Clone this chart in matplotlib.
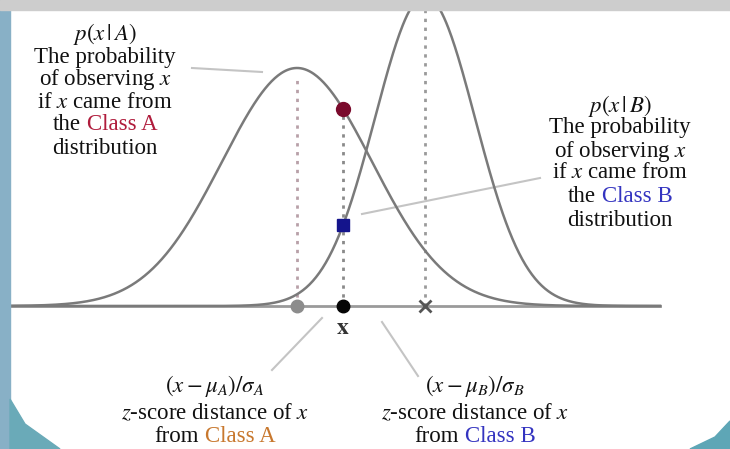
import numpy as np
import matplotlib
matplotlib.use("Agg")
import matplotlib.pyplot as plt
from matplotlib.patches import Rectangle, Polygon

plt.rcParams['mathtext.fontset'] = 'stix'
plt.rcParams['font.family'] = ['Liberation Serif', 'DejaVu Serif']

# Diagram values (horizontal position, height above the baseline)
mu_a, sd_a, peak_a = 297, 75, 238
mu_b, sd_b, peak_b = 425, 50, 310
x_obs = 343
x_grid = np.linspace(10, 660, 600)

top_a = ["$p(x\\,|\\,A)$", "The probability", "of observing $x$", "if $x$ came from"]
top_b = ["$p(x\\,|\\,B)$", "The probability", "of observing $x$", "if $x$ came from"]
bot_a = ["$(x-\\mu_A)/\\sigma_A$", "$z$-score distance of $x$"]
bot_b = ["$(x-\\mu_B)/\\sigma_B$", "$z$-score distance of $x$"]

col_a = "#b01c3c"
col_a2 = "#c8782e"
col_b = "#3434c0"
curve_col = "#7a7a7a"
fs = 16.5


def curve(x, mu, sd, peak):
    return peak * np.exp(-0.5 * ((x - mu) / sd) ** 2)


fig = plt.figure(figsize=(7.3, 4.49), dpi=100)
ax = fig.add_axes([0, 0, 1, 1])
ax.set_xlim(0, 730)
ax.set_ylim(306 - 449, 306)
ax.axis('off')

# frame decoration
fig.patches.append(Rectangle((0, 0), 10 / 730, 1, transform=fig.transFigure,
                             color="#88b0c6", zorder=0))
fig.patches.append(Rectangle((0, 1 - 10 / 449), 1, 10 / 449, transform=fig.transFigure,
                             color="#cdcdcd", zorder=0))
fig.patches.append(Polygon([(10 / 730, 0), (10 / 730, 50 / 449), (25 / 730, 25 / 449),
                            (60 / 730, 0)], transform=fig.transFigure,
                           color="#6aaab8", zorder=0))
fig.patches.append(Polygon([(1, 0), (1, 28 / 449), (715 / 730, 12 / 449),
                            (690 / 730, 0)], transform=fig.transFigure,
                           color="#5ea6b6", zorder=0))

# baseline
ax.plot([10, 660], [0, 0], color="#9a9a9a", lw=2, zorder=1)

# curves
ya = curve(x_grid, mu_a, sd_a, peak_a)
yb = curve(x_grid, mu_b, sd_b, peak_b)
ax.plot(x_grid, ya, color=curve_col, lw=1.8, zorder=2)
ax.plot(x_grid, yb, color=curve_col, lw=1.8, zorder=2)

# dotted guides
pa_obs = curve(x_obs, mu_a, sd_a, peak_a)
pb_obs = curve(x_obs, mu_b, sd_b, peak_b)
ax.plot([mu_a, mu_a], [0, peak_a - 8], ls=(0, (1.2, 2)), color="#b8a0a8", lw=2, zorder=1)
ax.plot([x_obs, x_obs], [0, pa_obs], ls=(0, (1.2, 2)), color="#8a8a8a", lw=2, zorder=1)
ax.plot([mu_b, mu_b], [0, 300], ls=(0, (1.2, 2)), color="#9a9a9a", lw=2, zorder=1)

# points on the axis
ax.plot(mu_a, 0, 'o', color="#8c8c8c", ms=9, zorder=3)
ax.plot(x_obs, 0, 'o', color="#050505", ms=9, zorder=3)
ax.plot(mu_b, 0, 'x', color="#555555", ms=9, mew=2, zorder=3)
ax.plot(x_obs, pa_obs, 'o', color="#7a0a2c", ms=10, zorder=4)
ax.plot(x_obs, pb_obs, 's', color="#14148c", ms=9, zorder=4)
ax.text(x_obs, -22, "$\\mathbf{x}$", fontsize=17, ha='center', va='center', color="#333333")

# leader lines
lead = "#c4c4c4"
ax.plot([192, 262], [238, 234], color=lead, lw=1.5, zorder=1)
ax.plot([362, 540], [92, 128], color=lead, lw=1.5, zorder=1)
ax.plot([272, 322], [-64, -12], color=lead, lw=1.5, zorder=1)
ax.plot([382, 418], [-16, -70], color=lead, lw=1.5, zorder=1)

renderer = fig.canvas.get_renderer()


def mixed_line(x, y, head, tail, color):
    full = ax.text(0, y, head + " " + tail, fontsize=fs, ha='left', va='center')
    w = full.get_window_extent(renderer).width
    full.remove()
    ax.text(x - w / 2, y, head, fontsize=fs, ha='left', va='center', color="#111111")
    ax.text(x + w / 2, y, tail, fontsize=fs, ha='right', va='center', color=color)


def block(x, ys, lines):
    for yy, s in zip(ys, lines):
        ax.text(x, yy, s, fontsize=fs, ha='center', va='center', color="#111111")


# top-left label
ys_a = [306 - 34, 306 - 57, 306 - 80, 306 - 102]
block(105, ys_a, top_a)
mixed_line(105, 306 - 125, "the", "Class A", col_a)
ax.text(105, 306 - 148, "distribution", fontsize=fs, ha='center', va='center', color="#111111")

# right label
ys_b = [306 - 106, 306 - 128, 306 - 151, 306 - 173]
block(620, ys_b, top_b)
mixed_line(620, 306 - 197, "the", "Class B", col_b)
ax.text(620, 306 - 220, "distribution", fontsize=fs, ha='center', va='center', color="#111111")

# bottom labels
block(215, [306 - 386, 306 - 414], bot_a)
mixed_line(215, 306 - 437, "from", "Class A", col_a2)
block(475, [306 - 386, 306 - 414], bot_b)
mixed_line(475, 306 - 437, "from", "Class B", col_b)

fig.savefig("out.png", dpi=100)
